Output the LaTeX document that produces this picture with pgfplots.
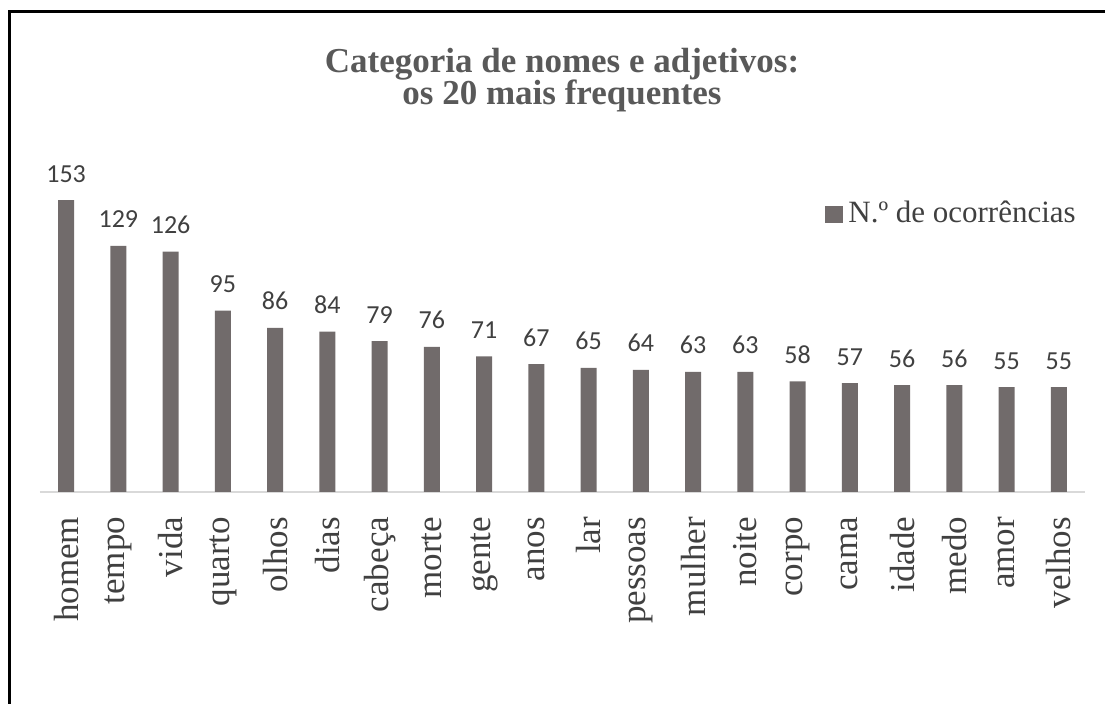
\documentclass[border=0pt]{standalone}
\usepackage{pgfplots}
\pgfplotsset{compat=1.18}
\usepackage{fontspec}
\setmainfont{Liberation Serif}
\newfontfamily\valfont{Carlito}
\definecolor{barcol}{RGB}{113,107,107}
\definecolor{txt}{RGB}{64,64,64}
\definecolor{ttl}{RGB}{89,89,89}
\definecolor{basel}{RGB}{217,217,217}
\begin{document}
\begin{tikzpicture}
\path[use as bounding box] (0,0) rectangle (552.5pt,352pt);
\begin{axis}[
  at={(20pt,106pt)}, anchor=south west,
  scale only axis, width=522.5pt, height=162.2pt,
  xmin=-0.5, xmax=19.5, ymin=0, ymax=170,
  axis x line*=bottom, axis y line=none,
  x axis line style={-, draw=basel, line width=0.8pt},
  xtick={0,...,19},
  xticklabels={homem,tempo,vida,quarto,olhos,dias,cabeça,morte,gente,anos,lar,pessoas,mulher,noite,corpo,cama,idade,medo,amor,velhos},
  xtick style={draw=none},
  ytick=\empty,
  /pgf/number format/assume math mode=true,
  xticklabel style={yshift=-8pt, rotate=90, anchor=east, inner sep=0pt, text=txt, font=\fontsize{17.5}{20}\selectfont},
  ybar, bar width=8pt,
  nodes near coords,
  every node near coord/.append style={anchor=base, yshift=9pt, inner sep=0pt, text=txt, font=\valfont\fontsize{13}{15}\selectfont},
  clip=false,
]
\addplot[fill=barcol, draw=none] coordinates {
(0,153) (1,129) (2,126) (3,95) (4,86) (5,84) (6,79) (7,76) (8,71) (9,67)
(10,65) (11,64) (12,63) (13,63) (14,58) (15,57) (16,56) (17,56) (18,55) (19,55)};
\end{axis}
\draw[black, line width=1.5pt] (4.75pt,0) -- (4.75pt,346.25pt) -- (552.5pt,346.25pt);
\node[anchor=base, text=ttl, font=\bfseries\fontsize{17.5}{20}\selectfont, inner sep=0pt] at (281pt,315.5pt) {Categoria de nomes e adjetivos:};
\node[anchor=base, text=ttl, font=\bfseries\fontsize{17.5}{20}\selectfont, inner sep=0pt] at (281pt,299.5pt) {os 20 mais frequentes};
\fill[barcol] (412.5pt,240.5pt) rectangle (421.5pt,249pt);
\node[anchor=base west, text=txt, font=\fontsize{15.5}{18}\selectfont, inner sep=0pt] at (424pt,240.5pt) {N.º de ocorrências};
\end{tikzpicture}
\end{document}
